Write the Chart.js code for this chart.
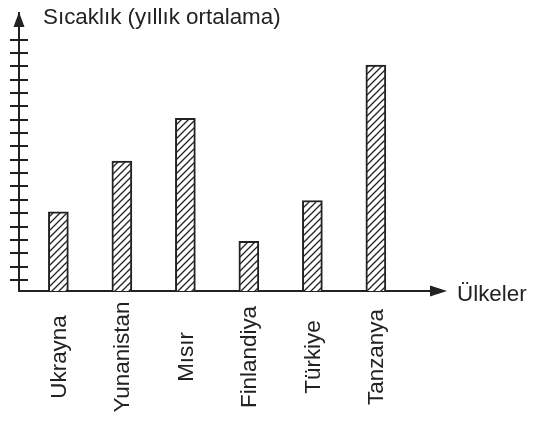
<!DOCTYPE html>
<html>
<head>
<meta charset="utf-8">
<script src="https://cdn.jsdelivr.net/npm/chart.js@4.4.1/dist/chart.umd.min.js"></script>
<style>
  html, body { margin: 0; padding: 0; background: #ffffff; }
  #wrap { width: 538px; height: 426px; }
</style>
</head>
<body>
<div id="wrap"><canvas id="c" width="538" height="426"></canvas></div>
<script>
// ---- data ----
const categories = ['Ukrayna', 'Yunanistan', 'Mısır', 'Finlandiya', 'Türkiye', 'Tanzanya'];
const temperatures = [6.1, 9.9, 13.1, 3.9, 6.95, 17.1];
const yTickValues = [1, 2, 3, 4, 5, 6, 7, 8, 9, 10, 11, 12, 13, 14, 15, 16, 17, 18, 19];
const yAxisTitle = 'Sıcaklık (yıllık ortalama)';
const xAxisTitle = 'Ülkeler';

// ---- styles ----
const INK = '#222222';
const FONT = '22.4px "Liberation Sans", Arial, sans-serif';

function makeHatch() {
  const s = 7;
  const c = document.createElement('canvas');
  c.width = s; c.height = s;
  const g = c.getContext('2d');
  g.fillStyle = '#ffffff';
  g.fillRect(0, 0, s, s);
  g.strokeStyle = INK;
  g.lineWidth = 1.3;
  g.beginPath();
  g.moveTo(-1, s + 1); g.lineTo(s + 1, -1);
  g.moveTo(-2, 2); g.lineTo(2, -2);
  g.moveTo(s - 2, s + 2); g.lineTo(s + 2, s - 2);
  g.stroke();
  return g.createPattern(c, 'repeat');
}

const decorPlugin = {
  id: 'decor',
  afterDraw(chart) {
    const ctx = chart.ctx;
    const xs = chart.scales.x, ys = chart.scales.y;
    const area = chart.chartArea;
    ctx.save();
    ctx.strokeStyle = INK;
    ctx.fillStyle = INK;
    // y tick marks crossing the axis
    ctx.lineWidth = 2;
    ys.ticks.forEach((t, i) => {
      const py = Math.round(ys.getPixelForTick(i));
      ctx.beginPath();
      ctx.moveTo(10, py);
      ctx.lineTo(28, py);
      ctx.stroke();
    });
    // y arrow head
    const ax = area.left;
    ctx.beginPath();
    ctx.moveTo(ax, area.top - 1);
    ctx.lineTo(ax - 5.5, area.top + 14);
    ctx.lineTo(ax + 5.5, area.top + 14);
    ctx.closePath();
    ctx.fill();
    // x arrow head
    const ay = area.bottom;
    ctx.beginPath();
    ctx.moveTo(area.right + 7, ay);
    ctx.lineTo(area.right - 10, ay - 5.5);
    ctx.lineTo(area.right - 10, ay + 5.5);
    ctx.closePath();
    ctx.fill();
    // titles
    ctx.font = FONT;
    ctx.textBaseline = 'alphabetic';
    ctx.textAlign = 'left';
    ctx.fillText(yAxisTitle, 43, 23.5);
    ctx.fillText(xAxisTitle, area.right + 17, ay + 10);
    // category labels (rotated)
    ctx.textAlign = 'center';
    ctx.textBaseline = 'middle';
    categories.forEach((name, i) => {
      const px = xs.getPixelForValue(i);
      ctx.save();
      ctx.translate(px, 357);
      ctx.rotate(-Math.PI / 2);
      ctx.fillText(name, 0, 1);
      ctx.restore();
    });
    ctx.restore();
  }
};

new Chart(document.getElementById('c'), {
  type: 'bar',
  data: {
    datasets: [{
      data: categories.map((c, i) => ({ x: i, y: temperatures[i] })),
      backgroundColor: makeHatch(),
      borderColor: INK,
      borderWidth: 2,
      borderSkipped: false,
      barThickness: 20
    }]
  },
  options: {
    responsive: false,
    animation: false,
    devicePixelRatio: 1,
    layout: { padding: { left: 19, top: 13, right: 98, bottom: 0 } },
    plugins: { legend: { display: false }, tooltip: { enabled: false }, title: { display: false } },
    scales: {
      x: {
        type: 'linear',
        offset: false,
        min: -0.62,
        max: 6.01,
        grid: { display: false },
        border: { display: true, color: INK, width: 2 },
        ticks: { display: false },
        afterFit: s => { s.height = 135; }
      },
      y: {
        type: 'linear',
        min: 0.17,
        max: 21.0,
        grid: { display: false },
        border: { display: true, color: INK, width: 2 },
        ticks: { display: false },
        afterBuildTicks: s => { s.ticks = yTickValues.map(v => ({ value: v })); },
        afterFit: s => { s.width = 0; }
      }
    }
  },
  plugins: [decorPlugin]
});
</script>
</body>
</html>
